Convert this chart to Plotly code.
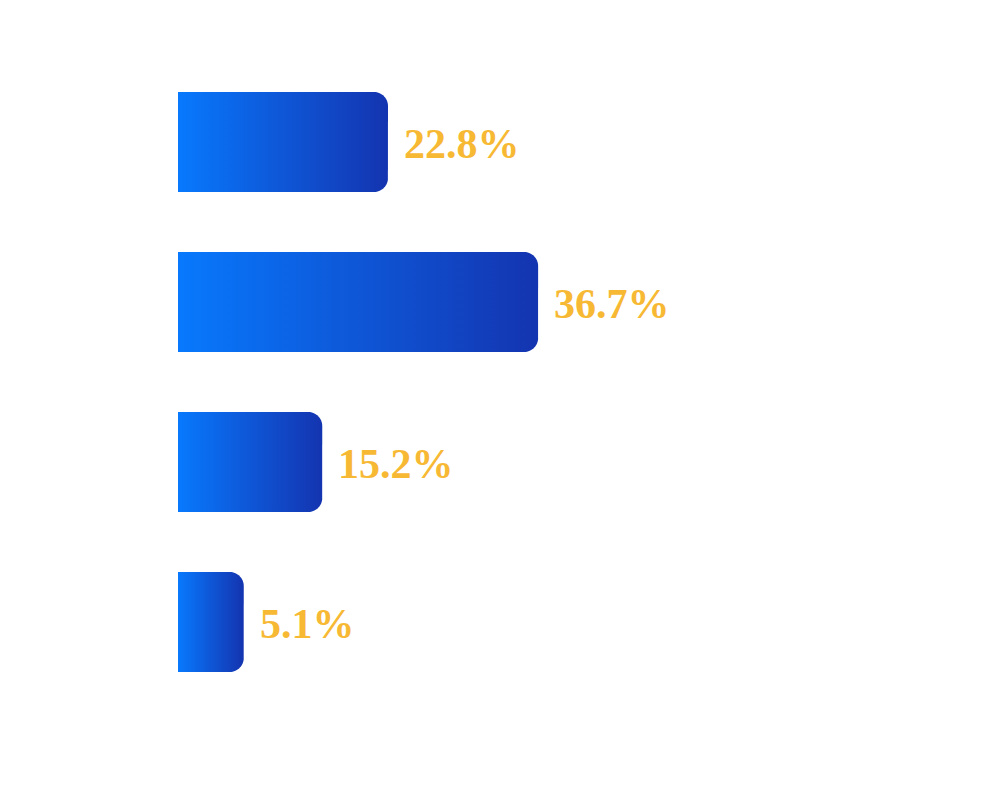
import numpy as np
import plotly.graph_objects as go

# ---- data ----
categories = ["A", "B", "C", "D"]
values = [22.8, 36.7, 15.2, 5.1]
labels = ["22.8%", "36.7%", "15.2%", "5.1%"]
bar_lengths = [21.4, 36.7, 14.7, 6.7]   # visual bar lengths

# ---- layout parameters ----
W, H = 1008, 800
ML, MR, MT, MB = 178, 45, 6, 42
XR = [0, 80]
YR = [3.85, -0.85]
BAR_HALF = 0.3125
RADIUS_PX = 14
C_LEFT, C_RIGHT = "#0879fd", "#1434b0"
LABEL_COLOR = "#f7b934"

pw = W - ML - MR
ph = H - MT - MB
px_per_x = pw / (XR[1] - XR[0])
px_per_y = ph / abs(YR[1] - YR[0])
rx = RADIUS_PX / px_per_x
ry = RADIUS_PX / px_per_y

fig = go.Figure()
for i, (cat, L) in enumerate(zip(categories, bar_lengths)):
    yc = i
    top, bot = yc - BAR_HALF, yc + BAR_HALF
    t = np.linspace(0, np.pi / 2, 16)
    xs = [0.0]
    ys = [top]
    xs += list(L - rx + rx * np.sin(t))
    ys += list(top + ry - ry * np.cos(t))
    xs += list(L - rx + rx * np.cos(t[1:]))
    ys += list(bot - ry + ry * np.sin(t[1:]))
    xs += [0.0, 0.0]
    ys += [bot, top]
    fig.add_trace(go.Scatter(
        x=xs, y=ys, mode="lines", fill="toself",
        line=dict(width=0, color=C_RIGHT, simplify=False),
        fillgradient=dict(type="horizontal", colorscale=[[0, C_LEFT], [1, C_RIGHT]]),
        hoverinfo="skip", showlegend=False, name=cat,
    ))
    fig.add_annotation(
        x=L, y=yc, text=labels[i], showarrow=False,
        xanchor="left", yanchor="middle", xshift=14, yshift=-2,
        font=dict(family="Liberation Serif", size=42, color=LABEL_COLOR, weight="bold"),
    )

fig.update_layout(
    width=W, height=H,
    margin=dict(l=ML, r=MR, t=MT, b=MB),
    paper_bgcolor="white", plot_bgcolor="white",
    xaxis=dict(range=XR, visible=False, fixedrange=True),
    yaxis=dict(range=YR, visible=False, fixedrange=True),
    showlegend=False,
)
fig.write_html("out.html")
